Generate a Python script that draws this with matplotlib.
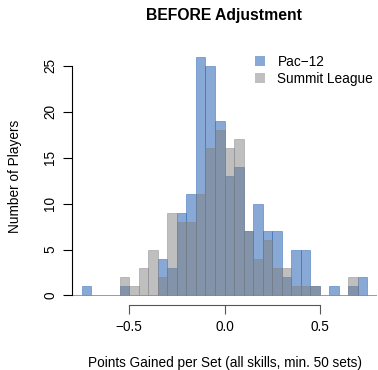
import numpy as np
import matplotlib
matplotlib.use('Agg')
import matplotlib.pyplot as plt
from matplotlib.patches import Patch

plt.rcParams['font.family'] = ['Liberation Sans', 'DejaVu Sans']

# histogram bins, width 0.05 from -0.8 to 0.8
bin_start = -0.8
bin_width = 0.05
# counts per bin
pac12 = [0, 1, 0, 0, 0, 1, 0, 0, 0, 4, 3, 9, 11, 26, 25, 19,
         13, 14, 7, 10, 7, 7, 2, 5, 5, 1, 0, 1, 0, 1, 2, 0]
summit = [0, 0, 0, 0, 0, 2, 1, 3, 5, 2, 9, 8, 8, 11, 16, 18,
          16, 17, 7, 4, 6, 3, 3, 1, 1, 1, 0, 0, 0, 2, 0, 0]
series_names = ['Pac\u221212', 'Summit League']
xticks = [-0.5, 0.0, 0.5]
xtick_labels = ['\u22120.5', '0.0', '0.5']
yticks = [0, 5, 10, 15, 20, 25]

blue = (0.2, 0.42, 0.72, 0.58)
grey = (0.5, 0.5, 0.5, 0.5)

edges = bin_start + bin_width * np.arange(len(pac12) + 1)

fig = plt.figure(figsize=(3.78, 3.70), dpi=100)
ax = fig.add_axes([72/378, 65/370, 305/378, 258/370])

ax.bar(edges[:-1], pac12, width=bin_width, align='edge', color=blue, edgecolor=blue, linewidth=0.6)
ax.bar(edges[:-1], summit, width=bin_width, align='edge', color=grey, edgecolor=grey, linewidth=0.6)

ax.set_xlim(edges[0], edges[-1])
top = max(max(pac12), max(summit))
ax.set_ylim(-0.04 * top, 1.04 * top)

for s in ['top', 'right']:
    ax.spines[s].set_visible(False)
ax.spines['left'].set_bounds(yticks[0], yticks[-1])
ax.spines['bottom'].set_bounds(xticks[0], xticks[-1])
ax.spines['bottom'].set_color('#555555')

ax.set_xticks(xticks)
ax.set_xticklabels(xtick_labels)
ax.set_yticks(yticks)
ax.tick_params(axis='both', length=6.5, width=0.8, labelsize=9.8, pad=4)
ax.tick_params(axis='x', colors='#555555', labelcolor='black')
for lab in ax.get_yticklabels():
    lab.set_rotation(90)
    lab.set_va('center')

ax.set_xlabel('Points Gained per Set (all skills, min. 50 sets)', fontsize=9.8)
ax.xaxis.set_label_coords(0.5, -0.224)
ax.xaxis.label.set_va('center')
ax.set_ylabel('Number of Players', fontsize=9.8)
ax.yaxis.set_label_coords(-0.187, 0.5)
ax.yaxis.label.set_va('center')

ax.text(0.5, 1.124, 'BEFORE Adjustment', transform=ax.transAxes, ha='center', va='center',
        fontsize=11.3, fontweight='bold')

handles = [Patch(facecolor=blue, edgecolor='none'), Patch(facecolor=grey, edgecolor='none')]
ax.legend(handles, series_names, loc='upper left', bbox_to_anchor=((255-72)/305, (305-55)/258),
          frameon=False, fontsize=9.8, borderpad=0, borderaxespad=0, handlelength=0.75,
          handleheight=0.75, handletextpad=0.9, labelspacing=0.2)

fig.savefig('out.png', dpi=100)
